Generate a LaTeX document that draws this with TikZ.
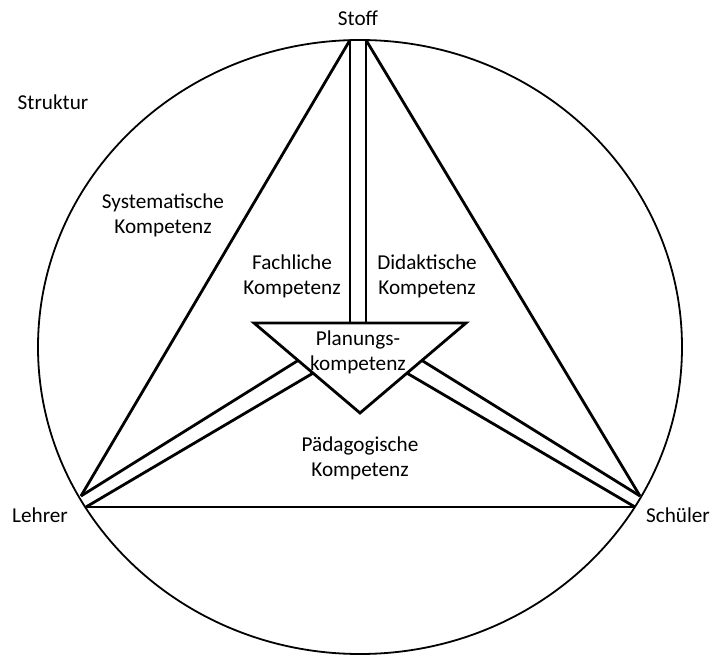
\documentclass[tikz,border=0pt]{standalone}
\usepackage{fontspec}
\setmainfont{Carlito}
\usepackage{tikz}
\usetikzlibrary{calc}
\tikzstyle{label} = [
  align=center,
  inner sep=0pt,
  font=\fontsize{21.2}{25}\selectfont,
]
\tikzstyle{edge} = [
  line width=2.8pt,
  line join=miter,
]
\tikzstyle{rim} = [
  line width=1.8pt,
]

\begin{document}
\begin{tikzpicture}[
    x=1pt,
    y=-1pt,
  ]
  \useasboundingbox (0,0) rectangle (718,655);
  \draw[rim] (360,347) ellipse [x radius=322, y radius=307];
  % corners
  \coordinate (stoffl) at (350,40);
  \coordinate (stoffr) at (366,40);
  \coordinate (lehrero) at (81,496);
  \coordinate (lehreru) at (86,507);
  \coordinate (schuelero) at (640,496);
  \coordinate (schueleru) at (635,507);
  % planning triangle
  \coordinate (pl) at (254,323);
  \coordinate (pr) at (466,323);
  \coordinate (pb) at (360,413);
  \draw[edge] (pl) -- (pr) -- (pb) -- cycle;
  \draw[edge] (stoffl) -- (lehrero);
  \draw[edge] (stoffr) -- (schuelero);
  \draw[edge] (lehreru) -- (schueleru);
  \draw[edge] (stoffl) -- (stoffl |- pl);
  \draw[edge] (stoffr) -- (stoffr |- pl);
  \draw[edge] (lehrero) -- ($(pl)!0.416!(pb)$);
  \draw[edge] (lehreru) -- ($(pl)!0.557!(pb)$);
  \draw[edge] (schuelero) -- ($(pr)!0.416!(pb)$);
  \draw[edge] (schueleru) -- ($(pr)!0.557!(pb)$);
  % texts
  \node[label] (stoff) at (358,18) {Stoff};
  \node[label] (struktur) at (53,102) {Struktur};
  \node[label] (lehrer) at (40,515) {Lehrer};
  \node[label] (schueler) at (678,515) {Schüler};
  \node[label] (system) at (163,215) {Systematische\\Kompetenz};
  \node[label] (fach) at (292,276) {Fachliche\\Kompetenz};
  \node[label] (didaktik) at (427,276) {Didaktische\\Kompetenz};
  \node[label] (planung) at (358,352) {Planungs-\\kompetenz};
  \node[label] (paed) at (360,458) {Pädagogische\\Kompetenz};
\end{tikzpicture}
\end{document}
